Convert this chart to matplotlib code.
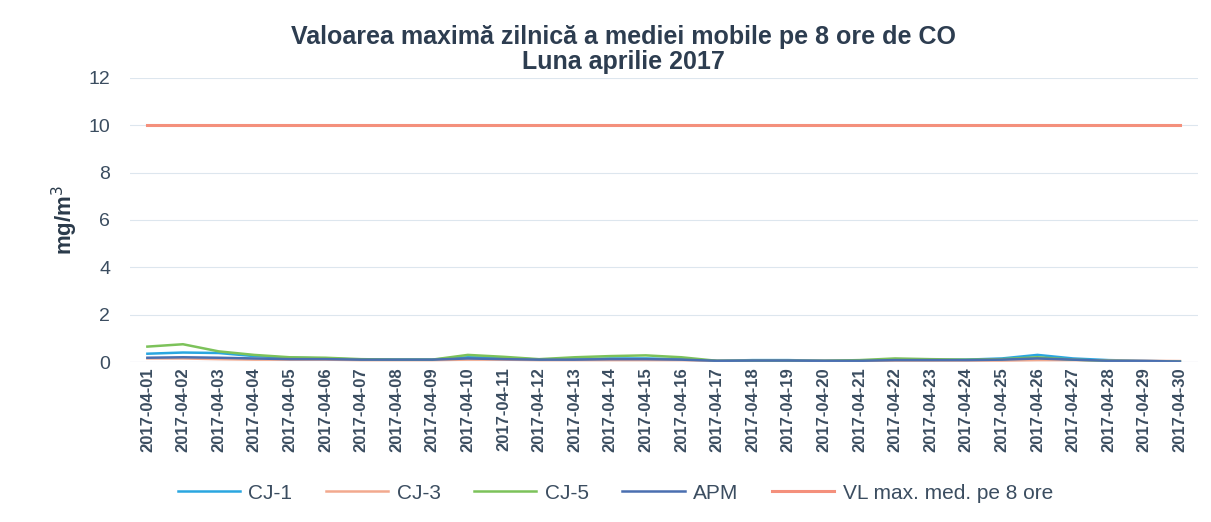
import matplotlib.pyplot as plt

plt.rcParams['font.family'] = ['Liberation Sans', 'DejaVu Sans']

days = ['2017-04-%02d' % d for d in range(1, 31)]

cj1 = [0.35, 0.40, 0.38, 0.25, 0.18, 0.15, 0.10, 0.10, 0.10, 0.20, 0.18, 0.10, 0.12, 0.15, 0.15,
       0.12, 0.05, 0.08, 0.08, 0.05, 0.05, 0.08, 0.08, 0.10, 0.15, 0.30, 0.15, 0.08, 0.05, 0.02]
cj3 = [0.15, 0.15, 0.12, 0.10, 0.10, 0.10, 0.08, 0.08, 0.08, 0.10, 0.10, 0.08, 0.08, 0.08, 0.08,
       0.08, 0.05, 0.05, 0.05, 0.05, 0.05, 0.06, 0.06, 0.06, 0.06, 0.08, 0.08, 0.06, 0.05, 0.04]
cj5 = [0.65, 0.75, 0.45, 0.30, 0.20, 0.18, 0.12, 0.10, 0.10, 0.30, 0.22, 0.12, 0.20, 0.25, 0.28,
       0.20, 0.05, 0.05, 0.05, 0.05, 0.08, 0.15, 0.12, 0.10, 0.12, 0.20, 0.10, 0.05, 0.03, 0.02]
apm = [0.18, 0.20, 0.18, 0.15, 0.12, 0.12, 0.10, 0.10, 0.10, 0.15, 0.12, 0.10, 0.10, 0.12, 0.12,
       0.10, 0.05, 0.06, 0.06, 0.05, 0.05, 0.08, 0.08, 0.08, 0.10, 0.15, 0.10, 0.05, 0.04, 0.02]
vl = [10] * 30

txt = '#3b4d60'

fig = plt.figure(figsize=(12.11, 5.22), dpi=100)
ax = fig.add_axes([0.107, 0.3065, 0.882, 0.5445])

x = range(len(days))
ax.plot(x, cj1, color='#2aa6e0', lw=1.8, label='CJ-1')
ax.plot(x, cj3, color='#f2a98e', lw=1.8, label='CJ-3')
ax.plot(x, cj5, color='#7cc25a', lw=1.8, label='CJ-5')
ax.plot(x, apm, color='#4a6fb0', lw=1.8, label='APM')
ax.plot(x, vl, color='#f4907c', lw=2.2, label='VL max. med. pe 8 ore')

ax.set_xlim(-0.5, len(days) - 0.5)
ax.set_ylim(0, 12)
ax.set_yticks(range(0, 13, 2))
ax.set_xticks(list(x))
ax.set_xticklabels(days, rotation=90, fontsize=12, color=txt, fontweight='bold')
ax.tick_params(axis='y', labelsize=14, colors=txt, length=0, pad=14)
ax.tick_params(axis='x', length=0, pad=4)
ax.grid(axis='y', color='#dde6ee', lw=0.8)
for s in ax.spines.values():
    s.set_visible(False)
ax.axhline(0, color='#c8d3dc', lw=0.8)

ax.set_ylabel('mg/m$^3$', fontsize=16, fontweight='bold', color='#2a3a4a', labelpad=6)
fig.text(0.515, 0.905, 'Valoarea maximă zilnică a mediei mobile pe 8 ore de CO\nLuna aprilie 2017',
         ha='center', va='center', fontsize=18, fontweight='bold', color='#2d3d50', linespacing=1.05)

fig.legend(loc='center', bbox_to_anchor=(0.508, 0.055), ncol=5, frameon=False, fontsize=15,
           labelcolor=txt, handlelength=3.0, handletextpad=0.4, columnspacing=1.6)

fig.savefig('out.png')
